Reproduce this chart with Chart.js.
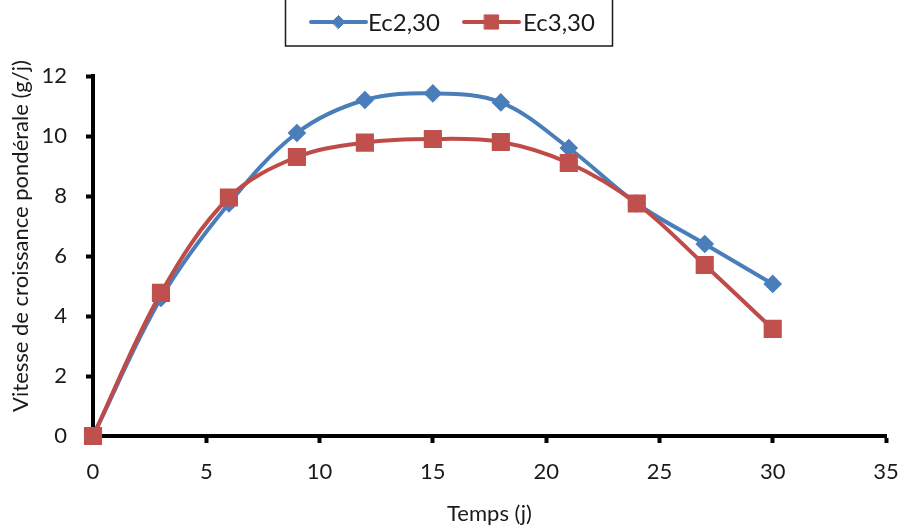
<!DOCTYPE html>
<html>
<head>
<meta charset="utf-8">
<script src="https://cdn.jsdelivr.net/npm/chart.js@4"></script>
<style>
  html, body { margin: 0; padding: 0; background: #fff; }
  #wrap { width: 901px; height: 529px; position: relative; }
</style>
</head>
<body>
<div id="wrap"><canvas id="c" width="901" height="529"></canvas></div>
<script>
// ---- data ----
const days = [0, 3, 6, 9, 12, 15, 18, 21, 24, 27, 30];
const ec2_30 = [0, 4.6, 7.75, 10.1, 11.2, 11.42, 11.12, 9.6, 7.75, 6.4, 5.07];
const ec3_30 = [0, 4.77, 7.95, 9.3, 9.78, 9.9, 9.8, 9.1, 7.75, 5.7, 3.57];
const seriesNames = ['Ec2,30', 'Ec3,30'];
const xTicks = [0, 5, 10, 15, 20, 25, 30, 35];
const yTicks = [0, 2, 4, 6, 8, 10, 12];
const xTitle = 'Temps (j)';
const yTitle = 'Vitesse de croissance pondérale (g/j)';

const FONT = 'Lato, "Liberation Sans", sans-serif';
const BLUE = '#4A7EBB';
const RED = '#BE4B48';

function pts(vals) { return days.map((d, i) => ({ x: d, y: vals[i] })); }

// custom legend (line + marker + text) inside a bordered box, and y-axis title
const decor = {
  id: 'decor',
  afterDraw(chart) {
    const ctx = chart.ctx;
    ctx.save();
    // legend box
    ctx.strokeStyle = '#1a1a1a';
    ctx.lineWidth = 1.5;
    ctx.strokeRect(285.5, -5, 327, 51);
    const items = [
      { ds: chart.data.datasets[0], x0: 311, x1: 366, tx: 368 },
      { ds: chart.data.datasets[1], x0: 464, x1: 519, tx: 523 }
    ];
    const ly = 22;
    items.forEach(it => {
      ctx.strokeStyle = it.ds.borderColor;
      ctx.lineWidth = 4;
      ctx.lineCap = 'round';
      ctx.beginPath();
      ctx.moveTo(it.x0, ly);
      ctx.lineTo(it.x1, ly);
      ctx.stroke();
      ctx.fillStyle = it.ds.pointBackgroundColor;
      ctx.strokeStyle = it.ds.pointBorderColor;
      ctx.lineWidth = 1;
      Chart.helpers.drawPoint(ctx, {
        pointStyle: it.ds.pointStyle,
        radius: it.ds.pointRadius,
        borderWidth: 1,
        rotation: 0
      }, (it.x0 + it.x1) / 2, ly);
      ctx.fillStyle = '#1a1a1a';
      ctx.font = '24px ' + FONT;
      ctx.textAlign = 'left';
      ctx.textBaseline = 'middle';
      ctx.fillText(it.ds.label, it.tx, ly + 1);
    });
    // y title
    ctx.translate(21, 236);
    ctx.rotate(-Math.PI / 2);
    ctx.fillStyle = '#1a1a1a';
    ctx.font = '22px ' + FONT;
    ctx.textAlign = 'center';
    ctx.textBaseline = 'middle';
    ctx.fillText(yTitle, 0, 0);
    ctx.restore();
  }
};

new Chart(document.getElementById('c'), {
  type: 'line',
  data: {
    datasets: [
      {
        label: seriesNames[0],
        data: pts(ec2_30),
        borderColor: BLUE,
        backgroundColor: BLUE,
        pointBackgroundColor: BLUE,
        pointBorderColor: BLUE,
        pointStyle: 'rectRot',
        pointRadius: 6.5,
        borderWidth: 4,
        tension: 0.35,
        clip: false,
        order: 1
      },
      {
        label: seriesNames[1],
        data: pts(ec3_30),
        borderColor: RED,
        backgroundColor: '#C0504D',
        pointBackgroundColor: '#C0504D',
        pointBorderColor: '#C0504D',
        pointStyle: 'rect',
        pointRadius: 10,
        borderWidth: 4,
        tension: 0.35,
        clip: false,
        order: 0
      }
    ]
  },
  options: {
    responsive: false,
    animation: false,
    layout: { padding: { top: 76, right: 15, left: 0, bottom: 0 } },
    plugins: {
      legend: { display: false },
      tooltip: { enabled: false }
    },
    scales: {
      x: {
        type: 'linear',
        min: 0, max: 35,
        afterBuildTicks(scale) { scale.ticks = xTicks.map(v => ({ value: v })); },
        afterFit(scale) { scale.height = 93; scale.paddingLeft = 0; scale.paddingRight = 0; },
        border: { color: '#000', width: 4 },
        grid: { drawOnChartArea: false, drawTicks: true, tickLength: 7, tickWidth: 4, tickColor: '#000' },
        ticks: { color: '#1a1a1a', font: { family: FONT, size: 22 }, padding: 16, maxRotation: 0 },
        title: { display: true, text: xTitle, color: '#1a1a1a', font: { family: FONT, size: 22 }, padding: { top: 0, bottom: 2 } }
      },
      y: {
        min: 0, max: 12,
        afterBuildTicks(scale) { scale.ticks = yTicks.map(v => ({ value: v })); },
        afterFit(scale) { scale.width = 93; scale.paddingTop = 0; scale.paddingBottom = 0; },
        border: { color: '#000', width: 4 },
        grid: { drawOnChartArea: false, drawTicks: true, tickLength: 7, tickWidth: 4, tickColor: '#000' },
        ticks: { color: '#1a1a1a', font: { family: FONT, size: 22 }, padding: 19 }
      }
    }
  },
  plugins: [decor]
});
</script>
</body>
</html>
